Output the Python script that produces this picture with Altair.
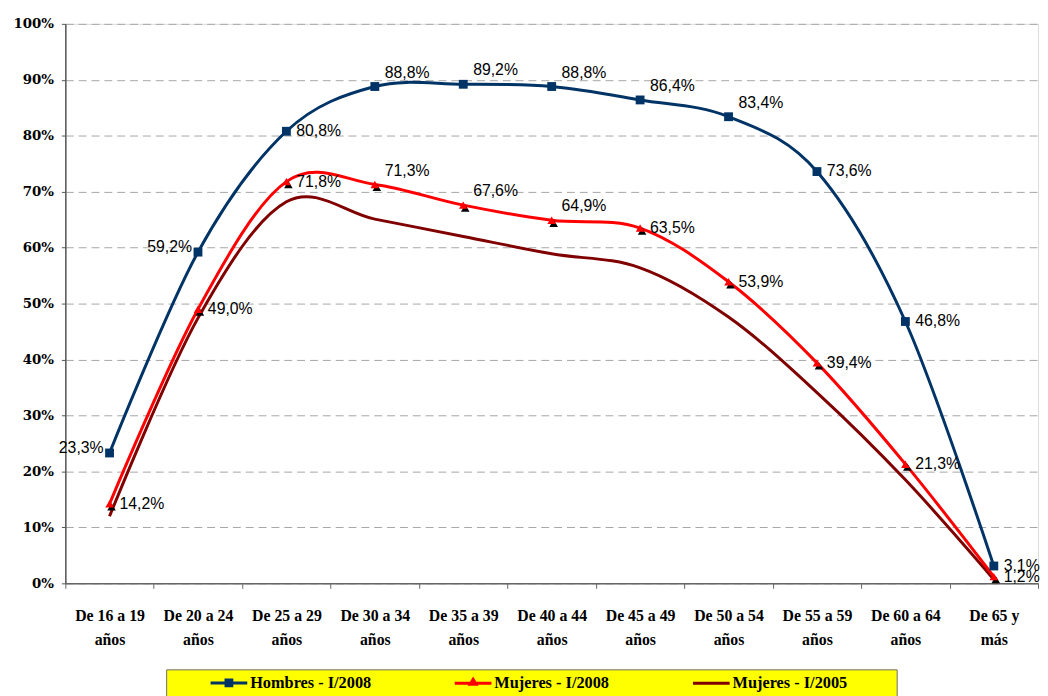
import altair as alt
import pandas as pd

categories = [
    "De 16 a 19 años", "De 20 a 24 años", "De 25 a 29 años", "De 30 a 34 años",
    "De 35 a 39 años", "De 40 a 44 años", "De 45 a 49 años", "De 50 a 54 años",
    "De 55 a 59 años", "De 60 a 64 años", "De 65 y más",
]
series_names = ["Hombres - I/2008", "Mujeres - I/2008", "Mujeres - I/2005"]
hombres_2008 = [23.3, 59.2, 80.8, 88.8, 89.2, 88.8, 86.4, 83.4, 73.6, 46.8, 3.1]
mujeres_2008 = [14.2, 49.0, 71.8, 71.3, 67.6, 64.9, 63.5, 53.9, 39.4, 21.3, 1.2]
mujeres_2005 = [12.0, 47.4, 68.2, 65.1, 62.0, 58.9, 56.4, 47.6, 34.1, 18.5, 0.7]
y_ticks = [0, 10, 20, 30, 40, 50, 60, 70, 80, 90, 100]

colors = ["#003366", "#FF0000", "#800000"]

rows = []
for name, vals in zip(series_names, [hombres_2008, mujeres_2008, mujeres_2005]):
    for i, (c, v) in enumerate(zip(categories, vals)):
        rows.append({"cat": c, "idx": i, "serie": name, "valor": v})
df = pd.DataFrame(rows)

x_enc = alt.X(
    "cat:N",
    sort=categories,
    scale=alt.Scale(type="band", paddingInner=0, paddingOuter=0),
    bandPosition=0.5,
    axis=alt.Axis(
        title=None, labelAngle=0, tickBand="extent", grid=False,
        labelExpr="[slice(datum.label, 0, lastindexof(datum.label, ' ')), slice(datum.label, lastindexof(datum.label, ' ') + 1)]",
        labelFont="Liberation Serif", labelFontWeight="bold", labelFontSize=16,
        labelLineHeight=24, labelColor="#000000", labelPadding=20,
        tickSize=5, tickColor="#666666", domainColor="#666666", domainWidth=1.5,
    ),
)
y_enc = alt.Y(
    "valor:Q",
    scale=alt.Scale(domain=[0, 100], nice=False),
    axis=alt.Axis(
        title=None, values=y_ticks, labelExpr="datum.value + '%'",
        grid=True, gridDash=[8, 5], gridColor="#A6A6A6", gridWidth=1,
        labelFont="DejaVu Serif", labelFontWeight="bold", labelFontSize=13.5,
        labelColor="#000000", labelPadding=8, tickSize=4,
        tickColor="#555555", domainColor="#555555", domainWidth=1.5,
    ),
)

base = alt.Chart(df).encode(x=x_enc, y=y_enc)


def serie_line(k):
    return base.transform_filter(alt.datum.serie == series_names[k]).mark_line(
        interpolate="cardinal", strokeWidth=3, color=colors[k]
    ).encode(order="idx:Q")


squares = base.transform_filter(alt.datum.serie == series_names[0]).mark_point(
    shape="square", filled=True, size=80, color=colors[0], opacity=1
)
tri_shadow = base.transform_filter(alt.datum.serie == series_names[1]).mark_point(
    shape="triangle-up", filled=True, size=75, color="#000000", opacity=1, xOffset=2, yOffset=3
)
tri = base.transform_filter(alt.datum.serie == series_names[1]).mark_point(
    shape="triangle-up", filled=True, size=75, color=colors[1], opacity=1
)

legend_cfg = alt.Legend(
    title=" ", titleOrient="right", titlePadding=45, titleFontSize=16,
    orient="none", legendX=102, legendY=653, direction="horizontal", columns=3,
    fillColor="#FFFF00", strokeColor="#6F6F6F", padding=5,
    symbolSize=196, symbolOffset=50, labelOffset=13, columnPadding=44,
    symbolStrokeWidth=3, symbolOpacity=1,
    labelFont="Liberation Serif", labelFontWeight="bold", labelFontSize=16.5,
    labelColor="#000000", labelLimit=300,
)
shape_paths = [
    "M-2.65,0H2.65M-0.42,-0.42H0.42V0.42H-0.42Z",
    "M-2.65,0H2.65M0,-0.55L0.42,0.15L-0.42,0.15Z",
    "M-2.65,0H2.65",
]
# legend-only layer: no rows drawn, scales have explicit domains
legend_layer = base.transform_filter("false").mark_point(filled=True, strokeWidth=3).encode(
    fill=alt.Fill("serie:N", scale=alt.Scale(domain=series_names, range=colors), legend=legend_cfg),
    stroke=alt.Stroke("serie:N", scale=alt.Scale(domain=series_names, range=colors), legend=legend_cfg),
    shape=alt.Shape("serie:N", scale=alt.Scale(domain=series_names, range=shape_paths), legend=legend_cfg),
)

lab = base.transform_calculate(
    label="replace(format(datum.valor, '.1f'), '.', ',') + '%'"
).encode(text="label:N")

is_h = "datum.serie == 'Hombres - I/2008'"
is_m = "datum.serie == 'Mujeres - I/2008'"
txt_style = dict(font="Liberation Sans", fontSize=16, color="#000000")

lab_left = lab.transform_filter(f"{is_h} && datum.idx <= 1").mark_text(
    align="right", baseline="middle", dx=-6, dy=-5, **txt_style
)
lab_above = lab.transform_filter(
    f"({is_h} && datum.idx >= 3 && datum.idx <= 7) || ({is_m} && datum.idx >= 3 && datum.idx <= 5)"
).mark_text(align="left", baseline="middle", dx=10, dy=-14, **txt_style)
lab_right = lab.transform_filter(
    f"({is_h} && (datum.idx == 2 || datum.idx >= 8)) || ({is_m} && (datum.idx <= 2 || datum.idx >= 6))"
).mark_text(align="left", baseline="middle", dx=10, dy=0, **txt_style)

chart = alt.layer(
    serie_line(2), serie_line(1), serie_line(0), legend_layer,
    squares, tri_shadow, tri, lab_left, lab_above, lab_right
).properties(
    width=984, height=566,
    padding={"left": 4, "top": 5, "right": 0, "bottom": 0},
).configure_view(stroke=None).configure(background="#FFFFFF")

chart.save("out.html", embed_options={"renderer": "svg", "actions": False})
